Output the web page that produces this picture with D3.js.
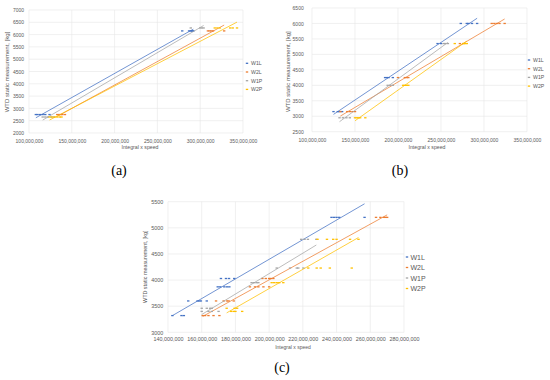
<!DOCTYPE html>
<html><head><meta charset="utf-8">
<script src="https://cdn.jsdelivr.net/npm/d3@7/dist/d3.min.js"></script>
<style>body{margin:0;background:#fff} svg{display:block}</style>
</head><body>
<svg id="c" width="550" height="380"></svg>
<script>
const seriesNames = ["W1L","W2L","W1P","W2P"];
const seriesColors = ["#4472C4","#ED7D31","#A5A5A5","#FFC000"];

// ---- panel (a): [load kg, [integral x speed in millions]]
const aXTicks = [100,150,200,250,300,350];
const aYTicks = [2000,2500,3000,3500,4000,4500,5000,5500,6000,6500,7000];
const aW1L = [[2750,[108,110,113,116,119,124]],[6150,[279,287,289,290,291,292]]];
const aW2L = [[2750,[133,135,137,139,142]],[6150,[309,311,313,315,328]]];
const aW1P = [[2650,[116,119,122,126,129]],[6270,[289,300,302,304]]];
const aW2P = [[2650,[124,127,130,133,136,138]],[6270,[317,320,323,335,338,343]]];

// ---- panel (b)
const bXTicks = [100,150,200,250,300,350];
const bYTicks = [2500,3000,3500,4000,4500,5000,5500,6000,6500];
const bW1L = [[3150,[125,130,132,135]],[4250,[185,187,189,194]],[5350,[246,250]],[6000,[273,280,282,286,292]]];
const bW2L = [[3150,[133,141,144,147,150]],[4250,[200,208,210,212]],[5350,[272,276]],[6000,[309,312,315,318,324]]];
const bW1P = [[2950,[132,136,140,144]],[4000,[188,191,194]],[5350,[253,255,258]]];
const bW2P = [[2950,[150,152,154,156,162]],[4000,[206,208,210,212]],[5350,[266,276,278,280]]];

// ---- panel (c)
const cXTicks = [140,160,180,200,220,240,260,280];
const cYTicks = [3000,3500,4000,4500,5000,5500];
const cW1L = [[3320,[142.6,148,149.4]],[3600,[152,157.5,158.5,159.5,163]],[3870,[169.5,171,173.4,175,176.4]],[4030,[171.4,174.4,176.2,179.3]],[5200,[237,238.5,240,241.6,256.6]]];
const cW2L = [[3320,[160.6,162,164,167,170.5]],[3600,[168.5,173,175,176,179]],[3870,[188.6,191.6,193.6,196.6,200]],[4030,[196,198,200,201,202.5]],[5200,[263.4,266,268,269,270]]];
const cW1P = [[3460,[160,163,165,166]],[3400,[160,164,166,170]],[3950,[189.6,191,192.5,193.6]],[4230,[204.5,212.4,216.4,217.3,220.3]],[4780,[219,221,223,228]]];
const cW2P = [[3460,[174.8,179.5,181]],[3400,[177.5,179,180,184]],[3950,[201.5,203,204.5,206,208.4]],[4230,[223.2,228.2,230.6,236,249]],[4780,[228.7,234.3,238,240,248,253]]];

const svg = d3.select("#c");
const txt = "#595959";
const sans = "'Liberation Sans', Arial, sans-serif";

function flatten(groups){
  const pts=[];
  groups.forEach(([load,xs])=>xs.forEach(v=>pts.push({x:v*1e6,y:load})));
  return pts;
}

function drawPanel(cfg, series, xTicks, yTicks, id){
  const x = d3.scaleLinear().domain([xTicks[0]*1e6, xTicks[xTicks.length-1]*1e6]).range([cfg.left,cfg.right]);
  const y = d3.scaleLinear().domain([yTicks[0], yTicks[yTicks.length-1]]).range([cfg.bottom,cfg.top]);
  const g = svg.append("g");
  g.append("clipPath").attr("id","clip"+id).append("rect")
    .attr("x",cfg.left).attr("y",cfg.top).attr("width",cfg.right-cfg.left).attr("height",cfg.bottom-cfg.top);
  // grid
  g.selectAll(".hg").data(yTicks).join("line")
    .attr("x1",cfg.left).attr("x2",cfg.right).attr("y1",d=>y(d)).attr("y2",d=>y(d))
    .attr("stroke","#e6e6e6").attr("stroke-width",0.6);
  g.selectAll(".vg").data(xTicks).join("line")
    .attr("y1",cfg.top).attr("y2",cfg.bottom).attr("x1",d=>x(d*1e6)).attr("x2",d=>x(d*1e6))
    .attr("stroke","#e6e6e6").attr("stroke-width",0.6);
  // axes
  const xa = g.append("g").attr("transform",`translate(0,${cfg.bottom})`)
    .call(d3.axisBottom(x).tickValues(xTicks.map(v=>v*1e6)).tickFormat(d3.format(",")).tickSize(0).tickPadding(cfg.xPad));
  const ya = g.append("g").attr("transform",`translate(${cfg.left},0)`)
    .call(d3.axisLeft(y).tickValues(yTicks).tickFormat(d3.format("d")).tickSize(0).tickPadding(cfg.yPad));
  [xa,ya].forEach(a=>{
    a.select(".domain").remove();
    a.selectAll("text").attr("fill",txt).style("font-family",sans).style("font-size",cfg.tickFs+"px");
  });
  // titles
  g.append("text").attr("x",cfg.xTitle[0]).attr("y",cfg.xTitle[1]).attr("text-anchor","middle")
    .attr("dominant-baseline","central").attr("fill",txt).style("font-family",sans).style("font-size",cfg.xTitleFs+"px")
    .text("Integral x speed");
  g.append("text").attr("transform",`translate(${cfg.yTitle[0]},${cfg.yTitle[1]}) rotate(-90)`).attr("text-anchor","middle")
    .attr("dominant-baseline","central").attr("fill",txt).style("font-family",sans).style("font-size",cfg.yTitleFs+"px")
    .text("WTD static measurement, [kg]");
  // series
  series.forEach((groups,i)=>{
    const pts = flatten(groups);
    const mx = d3.mean(pts,d=>d.x), my = d3.mean(pts,d=>d.y);
    const sxy = d3.sum(pts,d=>(d.x-mx)*(d.y-my)), sxx = d3.sum(pts,d=>(d.x-mx)**2);
    const b = sxy/sxx, a0 = my - b*mx;
    const [x0,x1] = d3.extent(pts,d=>d.x);
    g.append("line").attr("clip-path",`url(#clip${id})`)
      .attr("x1",x(x0)).attr("x2",x(x1)).attr("y1",y(a0+b*x0)).attr("y2",y(a0+b*x1))
      .attr("stroke",seriesColors[i]).attr("stroke-width",0.75);
    g.selectAll(".m"+i).data(pts).join("rect")
      .attr("x",d=>x(d.x)-1.2).attr("y",d=>y(d.y)-0.65).attr("width",2.4).attr("height",1.3)
      .attr("fill",seriesColors[i]);
  });
  // legend
  seriesNames.forEach((s,i)=>{
    const ly = cfg.legend[1]+i*cfg.legend[2];
    g.append("rect").attr("x",cfg.legend[0]-1.2).attr("y",ly-0.65).attr("width",2.4).attr("height",1.3).attr("fill",seriesColors[i]);
    g.append("text").attr("x",cfg.legend[0]+cfg.legend[4]).attr("y",ly).attr("dominant-baseline","central")
      .attr("fill",txt).style("font-family",sans).style("font-size",cfg.legend[3]+"px").text(s);
  });
  // tag
  g.append("text").attr("x",cfg.tag[0]).attr("y",cfg.tag[1]).attr("text-anchor","middle").attr("dominant-baseline","central")
    .attr("fill","#000").style("font-family","'Liberation Serif','Times New Roman',serif").style("font-size","14px").text(cfg.tag[2]);
}

drawPanel({left:29,right:243,top:10,bottom:133,xPad:6.2,yPad:5,tickFs:5,xTitle:[140,147],xTitleFs:5.2,yTitle:[7,72],yTitleFs:6,
  legend:[247,63.3,8.7,5.2,4],tag:[119,170,"(a)"]}, [aW1L,aW2L,aW1P,aW2P], aXTicks, aYTicks, "a");
drawPanel({left:312,right:527,top:8,bottom:131.7,xPad:6.5,yPad:8.3,tickFs:5,xTitle:[427,146.7],xTitleFs:5.2,yTitle:[288,71.7],yTitleFs:6,
  legend:[529,60,8.7,5.2,4],tag:[400,170,"(b)"]}, [bW1L,bW2L,bW1P,bW2P], bXTicks, bYTicks, "b");
drawPanel({left:168,right:404,top:201.7,bottom:332.3,xPad:5,yPad:4.7,tickFs:5.4,xTitle:[293,347.3],xTitleFs:5,yTitle:[145,266.7],yTitleFs:5.4,
  legend:[407,257,10.5,7,3.5],tag:[282,367.7,"(c)"]}, [cW1L,cW2L,cW1P,cW2P], cXTicks, cYTicks, "c");
</script>
</body></html>
